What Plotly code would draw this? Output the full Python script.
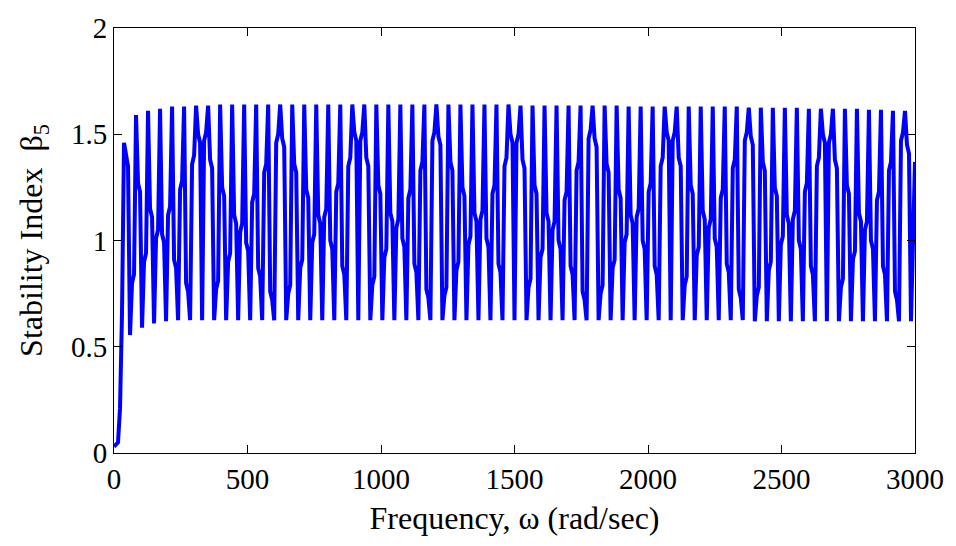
import numpy as np
import plotly.graph_objects as go

# ---- data --------------------------------------------------------------
# start-up transient before the first peak (beta5 values)
start_values = [0.03, 0.04, 0.05, 0.21, 0.66]

# per oscillation cycle: peak, upper/lower kink while falling, trough, lower/upper kink while rising
peaks = [1.46, 1.59, 1.61, 1.62, 1.63, 1.63, 1.635, 1.635, 1.64, 1.64, 1.64, 1.64, 1.64,
         1.64, 1.64, 1.64, 1.64, 1.64, 1.64, 1.64, 1.64, 1.64, 1.64, 1.64, 1.64, 1.64,
         1.64, 1.64, 1.64, 1.64, 1.64, 1.64, 1.64, 1.635, 1.635, 1.635, 1.635, 1.635, 1.635,
         1.635, 1.635, 1.635, 1.63, 1.63, 1.63, 1.63, 1.63, 1.63, 1.63, 1.63, 1.63, 1.63,
         1.625, 1.625, 1.625, 1.625, 1.625, 1.62, 1.62, 1.62, 1.62, 1.62, 1.615, 1.615, 1.61, 1.61]
fall_hi = [1.39, 1.27, 1.15, 1.03, 0.91, 0.80, 1.50, 1.38, 1.25, 1.12, 0.99, 0.87, 0.76,
           1.48, 1.36, 1.24, 1.12, 1.00, 0.88, 1.51, 1.39, 1.26, 1.13, 1.01, 0.89, 0.77,
           1.49, 1.37, 1.25, 1.13, 1.01, 0.89, 1.50, 1.38, 1.26, 1.13, 1.00, 0.88, 0.76,
           1.48, 1.36, 1.24, 1.12, 1.00, 0.88, 1.51, 1.39, 1.26, 1.14, 1.01, 0.89, 0.77,
           1.49, 1.37, 1.25, 1.12, 1.00, 0.88, 1.50, 1.38, 1.26, 1.13, 1.00, 0.88, 0.76,
           1.45]
fall_lo = [1.35, 1.23, 1.11, 0.99, 0.87, 0.76, 1.46, 1.34, 1.21, 1.08, 0.95, 0.83, 0.72,
           1.44, 1.32, 1.20, 1.08, 0.96, 0.84, 1.47, 1.35, 1.22, 1.09, 0.97, 0.85, 0.73,
           1.45, 1.33, 1.21, 1.09, 0.97, 0.85, 1.46, 1.34, 1.22, 1.09, 0.96, 0.84, 0.72,
           1.44, 1.32, 1.20, 1.08, 0.96, 0.84, 1.47, 1.35, 1.22, 1.10, 0.97, 0.85, 0.73,
           1.45, 1.33, 1.21, 1.08, 0.96, 0.84, 1.46, 1.34, 1.22, 1.09, 0.96, 0.84, 0.72,
           1.41]
troughs = [0.555, 0.59, 0.61, 0.62, 0.625, 0.625, 0.625, 0.625, 0.625, 0.625, 0.625, 0.625, 0.625,
           0.625, 0.625, 0.625, 0.625, 0.625, 0.625, 0.625, 0.625, 0.625, 0.625, 0.625, 0.625, 0.625,
           0.625, 0.625, 0.625, 0.625, 0.625, 0.625, 0.625, 0.625, 0.625, 0.625, 0.625, 0.625, 0.625,
           0.625, 0.625, 0.625, 0.625, 0.625, 0.625, 0.625, 0.625, 0.625, 0.625, 0.625, 0.625, 0.625,
           0.62, 0.62, 0.62, 0.62, 0.62, 0.62, 0.62, 0.62, 0.62, 0.62, 0.62, 0.62, 0.62, 0.62]
rise_lo = [0.80, 0.90, 1.01, 1.12, 1.24, 1.36, 1.47, 0.77, 0.90, 1.04, 1.18, 1.32, 1.46,
           0.75, 0.87, 0.99, 1.11, 1.23, 1.35, 1.47, 0.79, 0.92, 1.06, 1.20, 1.33, 1.47,
           0.74, 0.86, 0.98, 1.10, 1.22, 1.35, 1.46, 0.78, 0.92, 1.05, 1.19, 1.33, 1.48,
           0.75, 0.87, 0.99, 1.11, 1.23, 1.35, 1.47, 0.79, 0.93, 1.06, 1.20, 1.34, 1.47,
           0.74, 0.86, 0.98, 1.10, 1.23, 1.35, 1.46, 0.78, 0.91, 1.05, 1.19, 1.33, 1.47,
           0.99]
rise_hi = [0.84, 0.94, 1.05, 1.16, 1.28, 1.40, 1.51, 0.81, 0.94, 1.08, 1.22, 1.36, 1.50,
           0.79, 0.91, 1.03, 1.15, 1.27, 1.39, 1.51, 0.83, 0.96, 1.10, 1.24, 1.37, 1.51,
           0.78, 0.90, 1.02, 1.14, 1.26, 1.39, 1.50, 0.82, 0.96, 1.09, 1.23, 1.37, 1.52,
           0.79, 0.91, 1.03, 1.15, 1.27, 1.39, 1.51, 0.83, 0.97, 1.10, 1.24, 1.38, 1.51,
           0.78, 0.90, 1.02, 1.14, 1.27, 1.39, 1.50, 0.82, 0.95, 1.09, 1.23, 1.37, 1.51,
           1.37]

# uniform frequency grid (rad/s) the index was evaluated on
beta5 = list(start_values)
for pk, fh, fl, tr, rl, rh in zip(peaks, fall_hi, fall_lo, troughs, rise_lo, rise_hi):
    beta5 += [pk, fh, fl, tr, rl, rh]
freq = np.linspace(0, 3000, len(beta5))

x_ticks = [0, 500, 1000, 1500, 2000, 2500, 3000]
y_ticks = [0, 0.5, 1, 1.5, 2]
y_tick_labels = ["0", "0.5", "1", "1.5", "2"]

FONT = "Liberation Serif, Times New Roman, serif"

fig = go.Figure(
    go.Scatter(x=freq, y=beta5, mode="lines",
               line=dict(color="#0000FF", width=4), showlegend=False)
)

axis_common = dict(
    showgrid=False, zeroline=False, showline=True, linecolor="black", linewidth=1,
    mirror="allticks", ticks="inside", ticklen=8, tickcolor="black", tickwidth=1,
    tickfont=dict(family=FONT, size=29, color="black"),
)
fig.update_xaxes(range=[0, 3000], tickvals=x_ticks,
                 title=dict(text="Frequency, ω (rad/sec)",
                            font=dict(family=FONT, size=32, color="black"), standoff=12),
                 **axis_common)
fig.update_yaxes(range=[0, 2], tickvals=y_ticks, ticktext=y_tick_labels,
                 title=dict(text="Stability Index  β<sub>5</sub>",
                            font=dict(family=FONT, size=32, color="black"), standoff=18),
                 **axis_common)
fig.update_layout(
    width=956, height=546,
    margin=dict(l=114, r=36, t=20, b=93),
    paper_bgcolor="white", plot_bgcolor="white",
)
fig.write_html("out.html")
